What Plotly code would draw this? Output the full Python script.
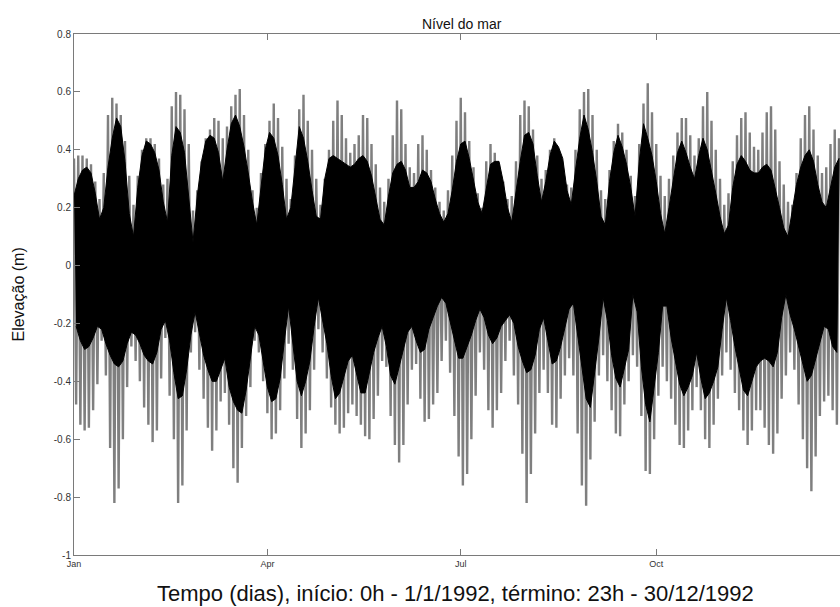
import pandas as pd
import plotly.graph_objects as go

START = pd.Timestamp("1992-01-01")

# High-water envelope sampled at even days (0,2,...,360), low-water at odd days (1,3,...,359)
hi_days = list(range(0, 361, 2))
lo_days = list(range(1, 360, 2))

# Black series (predicted tide) - high envelope (even days)
black_hi = [0.24, 0.30, 0.33, 0.34, 0.32, 0.25, 0.16, 0.20, 0.34, 0.44,
            0.51, 0.48, 0.36, 0.18, 0.10, 0.27, 0.38, 0.43, 0.42, 0.39,
            0.33, 0.22, 0.15, 0.38, 0.48, 0.46, 0.39, 0.23, 0.08, 0.24,
            0.36, 0.43, 0.45, 0.44, 0.39, 0.29, 0.40, 0.49, 0.52, 0.48,
            0.41, 0.32, 0.22, 0.14, 0.27, 0.40, 0.46, 0.44, 0.38, 0.28,
            0.16, 0.20, 0.34, 0.48, 0.44, 0.36, 0.26, 0.17, 0.16, 0.30,
            0.37, 0.38, 0.37, 0.36, 0.35, 0.34, 0.35, 0.37, 0.38, 0.36,
            0.31, 0.23, 0.16, 0.14, 0.24, 0.32, 0.35, 0.36, 0.33, 0.27,
            0.27, 0.29, 0.33, 0.32, 0.29, 0.23, 0.18, 0.15, 0.18, 0.26,
            0.36, 0.42, 0.43, 0.37, 0.29, 0.22, 0.18, 0.27, 0.35, 0.36,
            0.36, 0.29, 0.20, 0.15, 0.26, 0.36, 0.45, 0.46, 0.42, 0.31,
            0.22, 0.29, 0.38, 0.43, 0.41, 0.37, 0.26, 0.21, 0.33, 0.44,
            0.52, 0.47, 0.39, 0.29, 0.17, 0.14, 0.29, 0.39, 0.45, 0.41,
            0.35, 0.27, 0.17, 0.36, 0.49, 0.44, 0.38, 0.29, 0.18, 0.11,
            0.20, 0.29, 0.39, 0.43, 0.39, 0.34, 0.30, 0.38, 0.44, 0.40,
            0.33, 0.25, 0.17, 0.11, 0.14, 0.27, 0.35, 0.38, 0.36, 0.33,
            0.32, 0.32, 0.34, 0.35, 0.33, 0.27, 0.20, 0.13, 0.10, 0.19,
            0.28, 0.34, 0.38, 0.40, 0.36, 0.28, 0.22, 0.20, 0.27, 0.34,
            0.37]

# Black series - low envelope (odd days)
black_lo = [-0.21, -0.26, -0.29, -0.28, -0.25, -0.21, -0.22, -0.27, -0.31, -0.34,
            -0.35, -0.33, -0.27, -0.23, -0.24, -0.27, -0.31, -0.33, -0.34, -0.30,
            -0.22, -0.19, -0.26, -0.37, -0.46, -0.45, -0.36, -0.24, -0.16, -0.24,
            -0.31, -0.36, -0.40, -0.40, -0.36, -0.32, -0.42, -0.47, -0.50, -0.51,
            -0.43, -0.32, -0.21, -0.24, -0.33, -0.42, -0.47, -0.46, -0.39, -0.26,
            -0.14, -0.27, -0.40, -0.45, -0.40, -0.33, -0.21, -0.11, -0.19, -0.27,
            -0.38, -0.46, -0.44, -0.39, -0.33, -0.31, -0.38, -0.44, -0.44, -0.37,
            -0.30, -0.25, -0.21, -0.28, -0.38, -0.41, -0.36, -0.29, -0.23, -0.21,
            -0.26, -0.30, -0.29, -0.22, -0.18, -0.14, -0.11, -0.13, -0.19, -0.26,
            -0.32, -0.32, -0.28, -0.24, -0.19, -0.15, -0.18, -0.24, -0.27, -0.25,
            -0.21, -0.19, -0.17, -0.20, -0.28, -0.33, -0.37, -0.36, -0.31, -0.22,
            -0.18, -0.26, -0.34, -0.33, -0.28, -0.22, -0.15, -0.13, -0.24, -0.35,
            -0.46, -0.49, -0.38, -0.25, -0.11, -0.19, -0.31, -0.39, -0.42, -0.36,
            -0.29, -0.10, -0.16, -0.35, -0.48, -0.54, -0.43, -0.30, -0.14, -0.14,
            -0.25, -0.33, -0.41, -0.45, -0.42, -0.38, -0.30, -0.39, -0.46, -0.44,
            -0.40, -0.35, -0.22, -0.11, -0.19, -0.28, -0.36, -0.43, -0.45, -0.40,
            -0.35, -0.33, -0.32, -0.33, -0.35, -0.30, -0.18, -0.10, -0.17, -0.22,
            -0.27, -0.34, -0.40, -0.38, -0.32, -0.27, -0.21, -0.22, -0.28, -0.30]

# Gray series (observed sea level) - high envelope (even days)
gray_hi = [0.37, 0.38, 0.38, 0.37, 0.35, 0.29, 0.23, 0.32, 0.52, 0.58,
           0.56, 0.52, 0.43, 0.31, 0.21, 0.31, 0.40, 0.44, 0.44, 0.42,
           0.37, 0.28, 0.30, 0.55, 0.60, 0.59, 0.54, 0.42, 0.19, 0.26,
           0.36, 0.44, 0.47, 0.51, 0.50, 0.44, 0.48, 0.55, 0.59, 0.61,
           0.52, 0.40, 0.26, 0.20, 0.32, 0.42, 0.50, 0.56, 0.51, 0.41,
           0.30, 0.23, 0.38, 0.54, 0.59, 0.50, 0.40, 0.30, 0.21, 0.30,
           0.40, 0.50, 0.57, 0.52, 0.44, 0.39, 0.42, 0.45, 0.52, 0.51,
           0.42, 0.35, 0.27, 0.22, 0.30, 0.45, 0.57, 0.54, 0.42, 0.34,
           0.32, 0.42, 0.45, 0.40, 0.33, 0.27, 0.22, 0.19, 0.26, 0.38,
           0.50, 0.58, 0.53, 0.43, 0.34, 0.25, 0.20, 0.36, 0.42, 0.39,
           0.35, 0.29, 0.23, 0.24, 0.36, 0.52, 0.57, 0.55, 0.47, 0.38,
           0.30, 0.33, 0.40, 0.44, 0.40, 0.35, 0.28, 0.27, 0.40, 0.54,
           0.60, 0.61, 0.52, 0.40, 0.26, 0.23, 0.33, 0.43, 0.49, 0.46,
           0.40, 0.31, 0.24, 0.42, 0.56, 0.63, 0.53, 0.42, 0.31, 0.24,
           0.30, 0.38, 0.46, 0.51, 0.51, 0.45, 0.38, 0.44, 0.55, 0.60,
           0.50, 0.40, 0.30, 0.21, 0.25, 0.36, 0.45, 0.51, 0.53, 0.46,
           0.41, 0.40, 0.46, 0.53, 0.55, 0.47, 0.36, 0.28, 0.22, 0.21,
           0.32, 0.44, 0.52, 0.55, 0.47, 0.38, 0.32, 0.34, 0.42, 0.47,
           0.44]

# Gray series - low envelope (odd days)
gray_lo = [-0.48, -0.55, -0.57, -0.56, -0.50, -0.41, -0.26, -0.38, -0.63, -0.82,
           -0.77, -0.60, -0.42, -0.28, -0.33, -0.40, -0.49, -0.55, -0.61, -0.57,
           -0.39, -0.25, -0.45, -0.60, -0.82, -0.76, -0.57, -0.30, -0.23, -0.36,
           -0.46, -0.56, -0.64, -0.57, -0.47, -0.44, -0.55, -0.70, -0.75, -0.63,
           -0.52, -0.42, -0.26, -0.30, -0.40, -0.51, -0.60, -0.58, -0.50, -0.39,
           -0.27, -0.36, -0.53, -0.63, -0.58, -0.50, -0.36, -0.22, -0.30, -0.39,
           -0.49, -0.55, -0.58, -0.56, -0.51, -0.48, -0.52, -0.55, -0.59, -0.60,
           -0.53, -0.45, -0.33, -0.35, -0.52, -0.62, -0.68, -0.62, -0.48, -0.36,
           -0.34, -0.46, -0.54, -0.53, -0.48, -0.44, -0.33, -0.26, -0.37, -0.52,
           -0.66, -0.76, -0.72, -0.60, -0.45, -0.30, -0.36, -0.50, -0.56, -0.50,
           -0.44, -0.33, -0.26, -0.38, -0.48, -0.65, -0.82, -0.72, -0.58, -0.44,
           -0.36, -0.44, -0.55, -0.56, -0.46, -0.38, -0.32, -0.38, -0.58, -0.76,
           -0.83, -0.67, -0.54, -0.38, -0.31, -0.40, -0.50, -0.58, -0.59, -0.48,
           -0.40, -0.31, -0.35, -0.52, -0.71, -0.72, -0.60, -0.45, -0.35, -0.40,
           -0.46, -0.55, -0.62, -0.63, -0.57, -0.50, -0.42, -0.50, -0.60, -0.63,
           -0.55, -0.46, -0.38, -0.30, -0.36, -0.44, -0.50, -0.57, -0.62, -0.57,
           -0.50, -0.50, -0.56, -0.62, -0.65, -0.58, -0.46, -0.38, -0.30, -0.36,
           -0.48, -0.60, -0.70, -0.78, -0.66, -0.52, -0.47, -0.45, -0.50, -0.55]

month_ticks = ["1992-01-01", "1992-04-01", "1992-07-01", "1992-10-01"]
month_labels = ["Jan", "Apr", "Jul", "Oct"]
y_ticks = [-1, -0.8, -0.6, -0.4, -0.2, 0, 0.2, 0.4, 0.6, 0.8]
y_labels = ["-1", "-0.8", "-0.6", "-0.4", "-0.2", "0", "0.2", "0.4", "0.6", "0.8"]


def to_dates(days):
    return START + pd.to_timedelta(days, unit="D")


def zigzag(hi, lo):
    days, vals = [], []
    for i, h in enumerate(hi):
        days.append(hi_days[i])
        vals.append(h)
        if i < len(lo):
            days.append(lo_days[i])
            vals.append(lo[i])
    return to_dates(days), vals


def band(hi, lo):
    days = hi_days + lo_days[::-1]
    vals = list(hi) + list(lo)[::-1]
    return to_dates(days), vals


gx, gy = zigzag(gray_hi, gray_lo)
bx, by = band(black_hi, black_lo)

FONT = "Liberation Sans, Arial, sans-serif"

fig = go.Figure()
# observed series: individual tide strokes
fig.add_trace(go.Scatter(x=gx, y=gy, mode="lines",
                         line=dict(color="#7f7f7f", width=2.4),
                         hoverinfo="skip", showlegend=False))
# predicted series: dense band of tides
fig.add_trace(go.Scatter(x=bx, y=by, mode="lines", fill="toself",
                         fillcolor="#000000", line=dict(color="#000000", width=1),
                         hoverinfo="skip", showlegend=False))

L, T, B = 74, 34, 52
W, H = 840, 607
pw = W - L
ph = H - T - B
x_end = START + pd.Timedelta(days=(W - L) / 2.125)

fig.update_layout(
    width=W, height=H,
    margin=dict(l=L, r=0, t=T, b=B, pad=0),
    paper_bgcolor="white", plot_bgcolor="white",
    font=dict(family=FONT, color="#222"),
    xaxis=dict(range=[START, x_end], tickvals=month_ticks, ticktext=month_labels,
               showgrid=False, zeroline=False, showline=True, linecolor="#7a7a7a",
               linewidth=1, mirror="ticks", ticks="inside", ticklen=6,
               tickcolor="#7a7a7a", tickfont=dict(size=9, color="#333")),
    yaxis=dict(range=[-1, 0.8], tickvals=y_ticks, ticktext=y_labels,
               showgrid=False, zeroline=False, showline=True, linecolor="#7a7a7a",
               linewidth=1, mirror=False, ticks="inside", ticklen=6,
               tickcolor="#7a7a7a", tickfont=dict(size=10, color="#333")),
    annotations=[
        dict(text="Nível do mar", xref="paper", yref="paper",
             x=(462 - L) / pw, y=1, xanchor="center", yanchor="bottom",
             showarrow=False, font=dict(size=14, color="#111")),
        dict(text="Elevação (m)", xref="paper", yref="paper",
             x=(18 - L) / pw, y=0.5, xanchor="center", yanchor="middle",
             textangle=-90, showarrow=False, font=dict(size=16, color="#111")),
        dict(text="Tempo (dias), início: 0h - 1/1/1992, término: 23h - 30/12/1992",
             xref="paper", yref="paper", x=(455 - L) / pw, y=-(593 - (T + ph)) / ph,
             xanchor="center", yanchor="middle", showarrow=False,
             font=dict(size=22, color="#111")),
    ],
)

fig.write_html("out.html")
